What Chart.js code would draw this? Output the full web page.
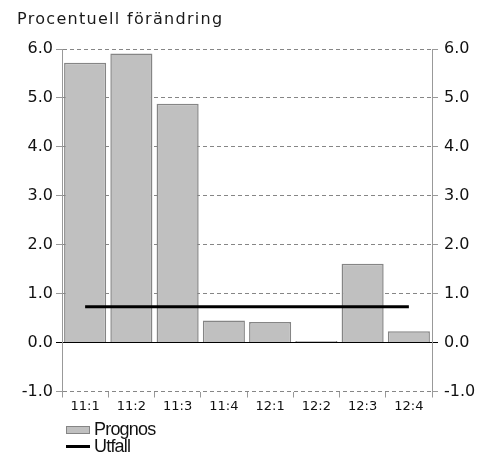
<!DOCTYPE html>
<html>
<head>
<meta charset="utf-8">
<script src="https://cdn.jsdelivr.net/npm/chart.js@4"></script>
<style>
  body { margin: 0; background: #fff; }
  #wrap { position: relative; width: 494px; height: 454px; }
  #title {
    position: absolute; left: 17px; top: 9px;
    font: 16px "DejaVu Sans", sans-serif; letter-spacing: 1.3px; color: #1a1a1a;
  }
  #legend {
    position: absolute; left: 66px; top: 421px;
    font: 18px "Liberation Sans", Arial, sans-serif; letter-spacing: -0.8px; color: #111;
  }
  .item { height: 17px; line-height: 17px; display: flex; align-items: center; }
  .swatch { width: 24px; margin-right: 4px; box-sizing: border-box; }
</style>
</head>
<body>
<div id="wrap">
  <canvas id="chart" width="494" height="454"></canvas>
  <div id="title">Procentuell förändring</div>
  <div id="legend"></div>
</div>
<script>
// quarters on the x axis
const quarters = ['11:1', '11:2', '11:3', '11:4', '12:1', '12:2', '12:3', '12:4'];

// forecast per quarter (bars)
const prognos = [5.72, 5.91, 4.88, 0.45, 0.42, 0.03, 1.61, 0.23];

// outcome (flat line)
const utfall = [0.73, 0.73, 0.73, 0.73, 0.73, 0.73, 0.73, 0.73];

const yMin = -1;
const yMax = 6;

const gridGray = '#868686';
const axisGray = '#999999';

const fmt = (v) => v.toFixed(1);
const isZero = (ctx) => ctx.tick && ctx.tick.value === 0;

const datasets = [
  {
    type: 'line',
    label: 'Utfall',
    data: utfall,
    borderColor: '#000',
    borderWidth: 3,
    pointRadius: 0,
    order: 0,
  },
  {
    type: 'bar',
    label: 'Prognos',
    data: prognos,
    backgroundColor: '#c0c0c0',
    borderColor: '#858585',
    borderWidth: 1.5,
    barPercentage: 0.91,
    categoryPercentage: 1,
    order: 1,
  },
];

const chart = new Chart(document.getElementById('chart'), {
  data: { labels: quarters, datasets },
  options: {
    responsive: false,
    animation: false,
    layout: { padding: { top: 49, bottom: 0, left: 0, right: 0 } },
    plugins: { legend: { display: false }, tooltip: { enabled: false } },
    scales: {
      x: {
        grid: {
          offset: true,
          drawOnChartArea: false,
          drawTicks: true,
          tickLength: 6,
          color: axisGray,
        },
        border: { display: false },
        ticks: {
          color: '#111',
          padding: 1,
          maxRotation: 0,
          font: { family: 'DejaVu Sans', size: 13 },
        },
        afterFit: (scale) => { scale.height = 62.5; },
      },
      y: {
        position: 'left',
        min: yMin,
        max: yMax,
        grid: {
          color: (ctx) => (isZero(ctx) ? '#000' : gridGray),
          tickLength: 6,
          tickColor: (ctx) => (isZero(ctx) ? '#000' : axisGray),
          tickBorderDash: [1, 0],
        },
        border: {
          color: axisGray,
          dash: (ctx) => (isZero(ctx) || !ctx.tick ? [] : [4, 3]),
        },
        ticks: {
          stepSize: 1,
          color: '#111',
          padding: 3,
          font: { family: 'DejaVu Sans', size: 16 },
          callback: fmt,
        },
        afterFit: (scale) => { scale.width = 62; },
      },
      y2: {
        position: 'right',
        min: yMin,
        max: yMax,
        grid: {
          drawOnChartArea: false,
          tickLength: 6,
          color: (ctx) => (isZero(ctx) ? '#000' : axisGray),
        },
        border: { color: axisGray },
        ticks: {
          stepSize: 1,
          color: '#111',
          padding: 6,
          font: { family: 'DejaVu Sans', size: 16 },
          callback: fmt,
        },
        afterFit: (scale) => { scale.width = 62; },
      },
    },
  },
});

// legend built from the datasets, bars first
const legend = document.getElementById('legend');
[datasets[1], datasets[0]].forEach((ds) => {
  const row = document.createElement('div');
  row.className = 'item';
  const sw = document.createElement('span');
  sw.className = 'swatch';
  if (ds.type === 'bar') {
    sw.style.height = '8px';
    sw.style.background = ds.backgroundColor;
    sw.style.border = '1px solid ' + ds.borderColor;
  } else {
    sw.style.height = '3px';
    sw.style.background = ds.borderColor;
  }
  const txt = document.createElement('span');
  txt.textContent = ds.label;
  row.appendChild(sw);
  row.appendChild(txt);
  legend.appendChild(row);
});
</script>
</body>
</html>
